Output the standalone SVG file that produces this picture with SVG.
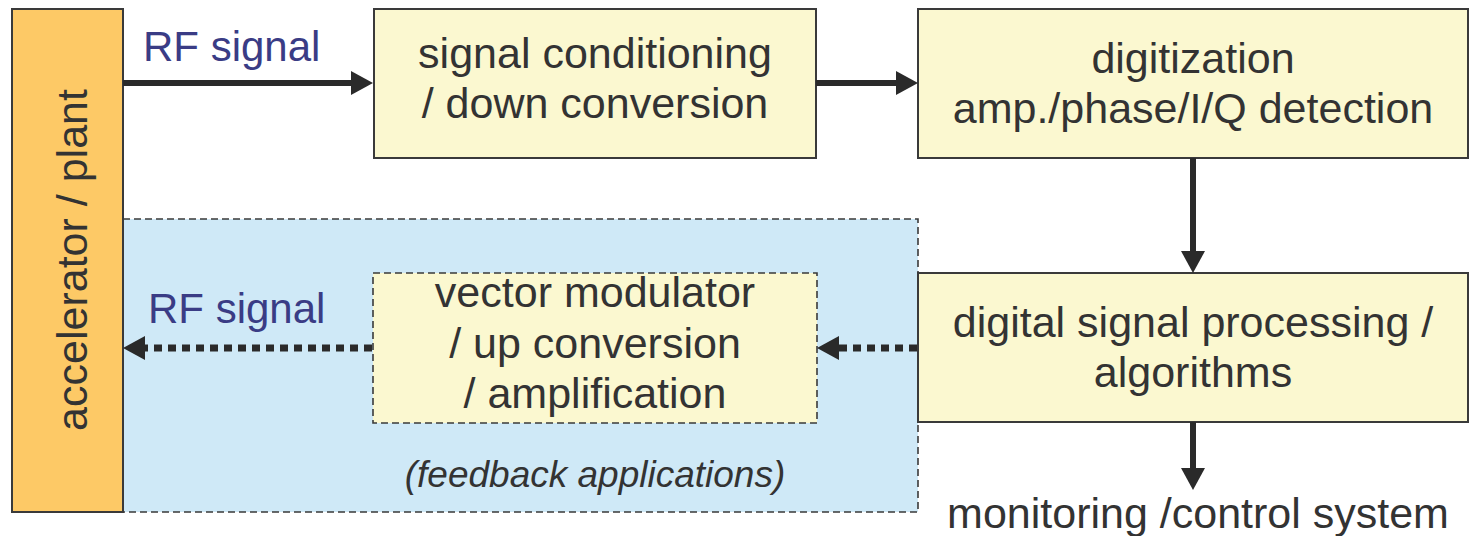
<svg xmlns="http://www.w3.org/2000/svg" width="1470" height="536" viewBox="0 0 1470 536">
<style>
.box{fill:#FBF8D0;stroke:#3a3a3a;stroke-width:2}
.dash{stroke-dasharray:7 4;stroke-width:1.6}
.t{font-family:"Liberation Sans",Arial,sans-serif;font-size:43px;fill:#333;text-anchor:middle}
.rf{font-family:"Liberation Sans",Arial,sans-serif;font-size:42px;fill:#3a3c85}
.solid{stroke:#2a2a2a;stroke-width:6;fill:none}
.dot{stroke:#2a2a2a;stroke-width:7;fill:none;stroke-dasharray:8 6}
</style>
<defs>
<marker id="ah" markerUnits="userSpaceOnUse" markerWidth="24" markerHeight="26" refX="7" refY="12" orient="auto">
<path d="M0,0 L22,12 L0,24 Z" fill="#2a2a2a"/>
</marker>
</defs>
<rect width="1470" height="536" fill="#fff"/>
<g id="feedback">
<rect x="123" y="219" width="795" height="293" fill="#CFE9F7" stroke="#3a3a3a" class="dash"/>
<text x="595" y="487" class="t" style="font-style:italic;font-size:37px">(feedback applications)</text>
</g>
<g id="accelerator">
<rect x="12" y="9" width="111" height="503" fill="#FDC966" stroke="#3a3a3a" stroke-width="2"/>
<text class="t" transform="translate(87,260) rotate(-90)" x="0" y="0">accelerator / plant</text>
</g>
<g id="conditioning">
<rect x="374" y="9" width="442" height="149" class="box"/>
<text x="595" y="68" class="t">signal conditioning</text>
<text x="595" y="118" class="t">/ down conversion</text>
</g>
<g id="digitization">
<rect x="918" y="9" width="550" height="149" class="box"/>
<text x="1193" y="73" class="t">digitization</text>
<text x="1193" y="123" class="t">amp./phase/I/Q detection</text>
</g>
<g id="dsp">
<rect x="918" y="273" width="550" height="149" class="box"/>
<text x="1193" y="337" class="t">digital signal processing /</text>
<text x="1193" y="387" class="t">algorithms</text>
</g>
<g id="modulator">
<rect x="373" y="273" width="444" height="150" class="box dash"/>
<text x="595" y="307" class="t">vector modulator</text>
<text x="595" y="358" class="t">/ up conversion</text>
<text x="595" y="408" class="t">/ amplification</text>
</g>
<g id="monitoring">
<text x="1198" y="528" class="t">monitoring /control system</text>
</g>
<g id="connectors">
<line x1="123" y1="83" x2="358" y2="83" class="solid" marker-end="url(#ah)"/>
<line x1="816" y1="83" x2="903" y2="83" class="solid" marker-end="url(#ah)"/>
<line x1="1193" y1="158" x2="1193" y2="258" class="solid" marker-end="url(#ah)"/>
<line x1="1193" y1="422" x2="1193" y2="475" class="solid" marker-end="url(#ah)"/>
<line x1="917" y1="348" x2="832" y2="348" class="dot" marker-end="url(#ah)"/>
<line x1="372" y1="348" x2="138" y2="348" class="dot" marker-end="url(#ah)"/>
<text x="143" y="61" class="rf">RF signal</text>
<text x="148" y="323" class="rf">RF signal</text>
</g>
</svg>
